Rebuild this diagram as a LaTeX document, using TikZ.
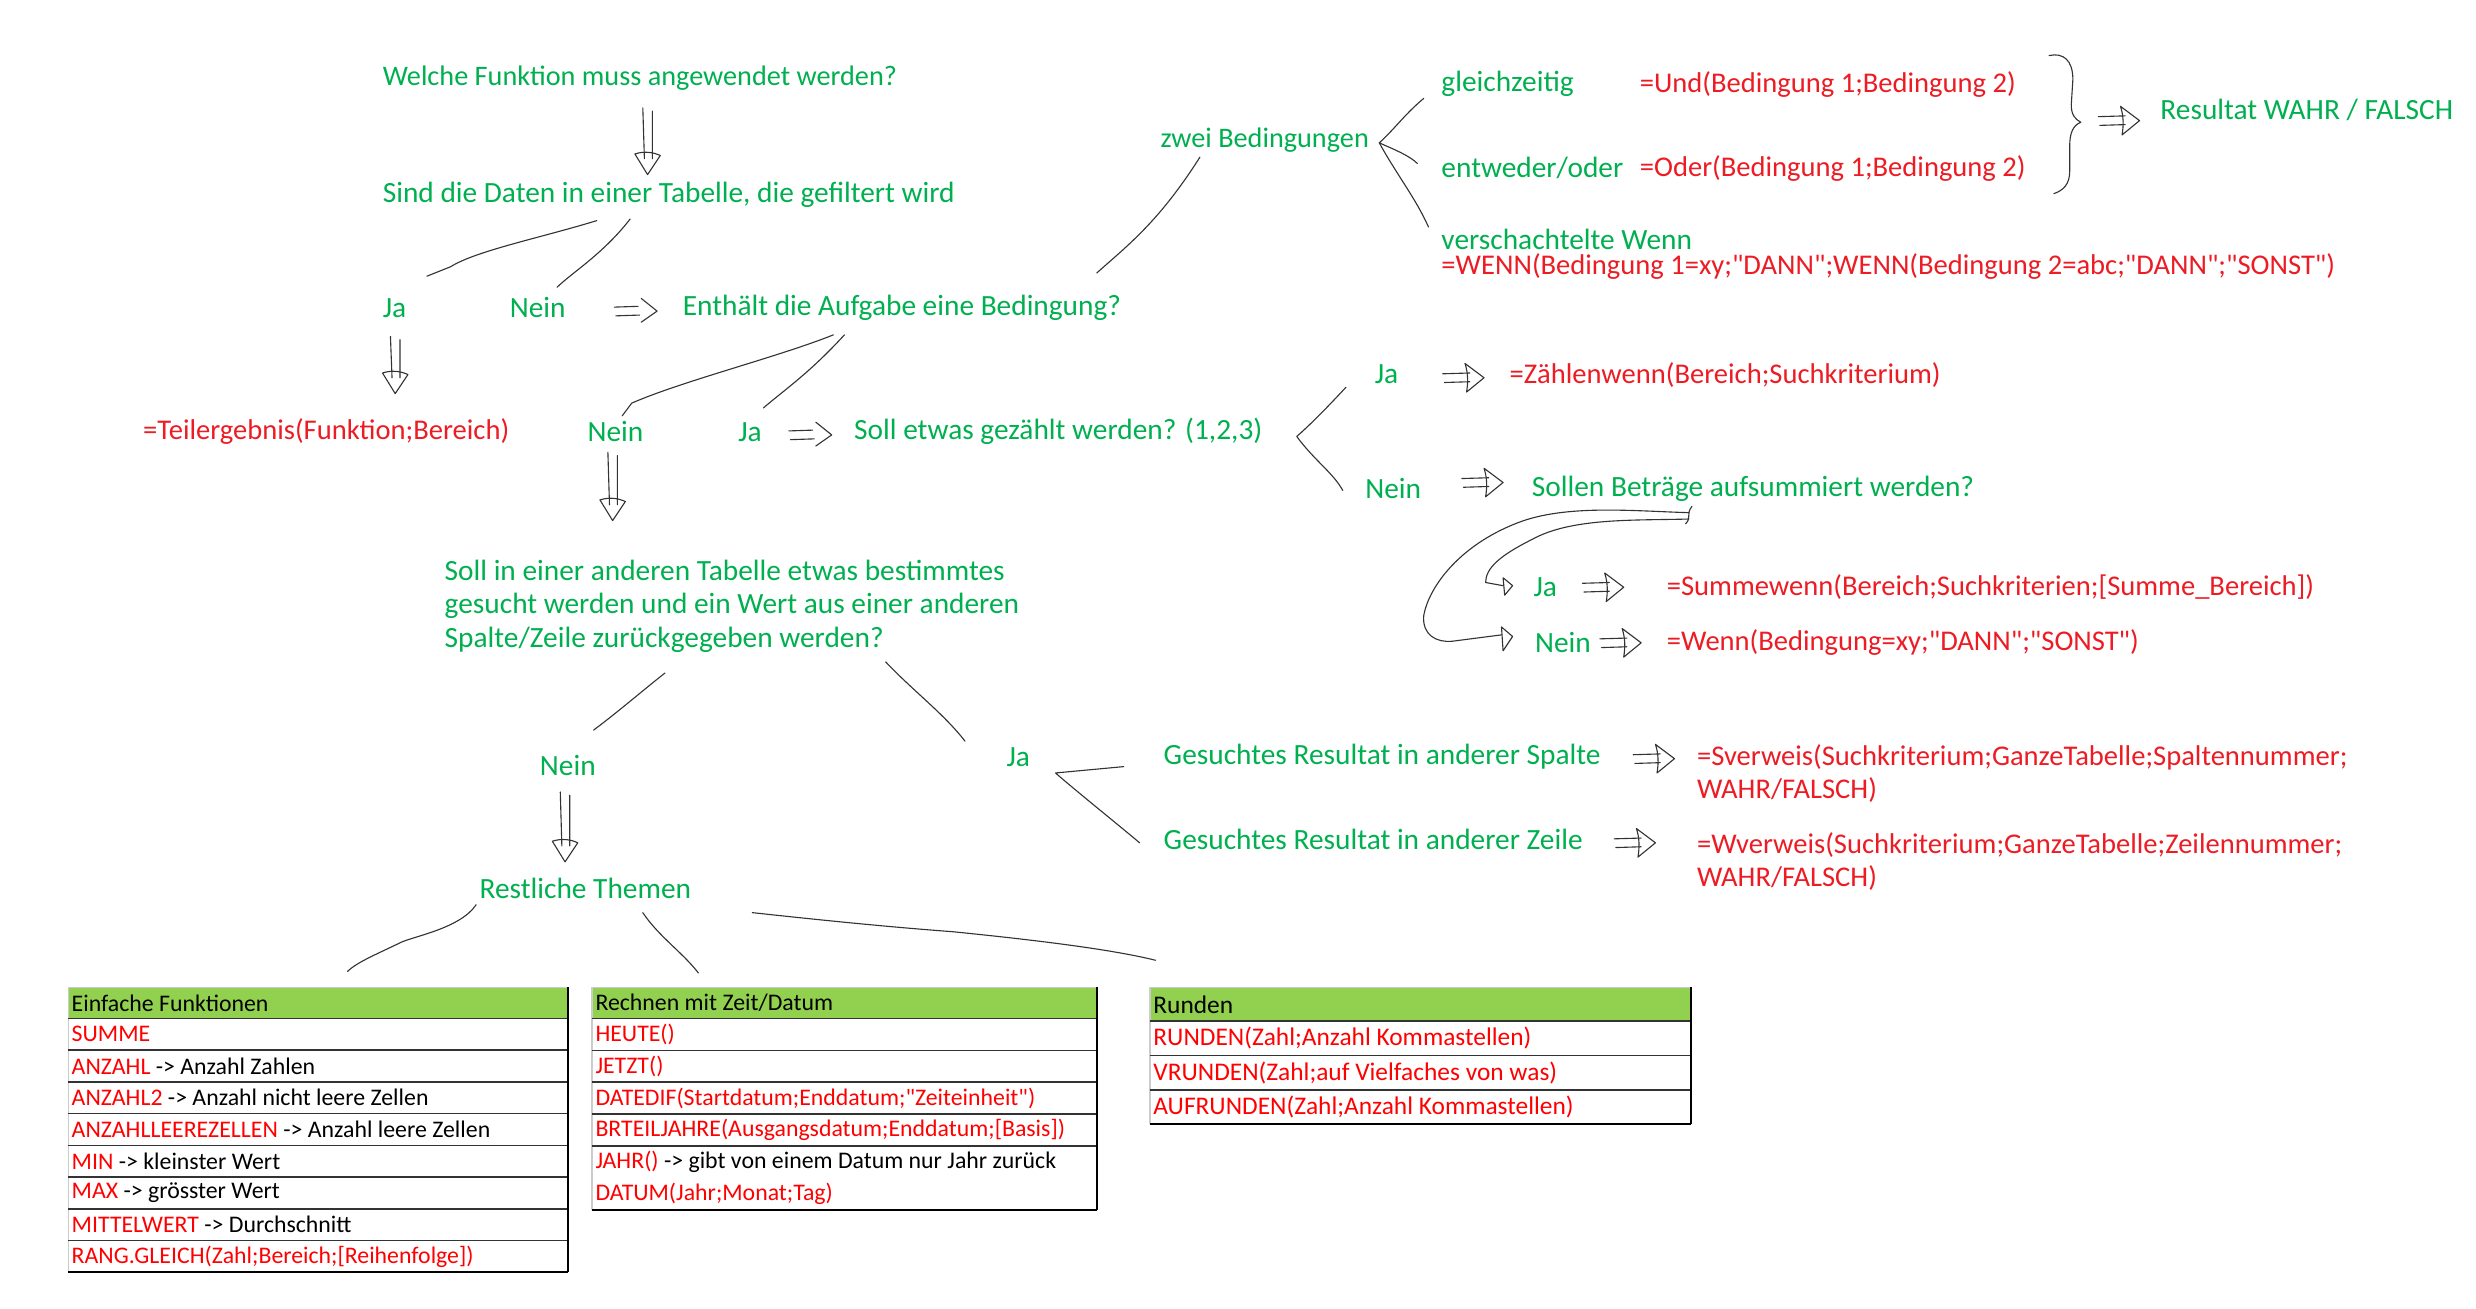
\documentclass[tikz,border=0pt]{standalone}
\usepackage{fontspec}
\setmainfont{Carlito}[Ligatures=TeXOff]
\definecolor{hgreen}{HTML}{00B050}
\definecolor{hred}{HTML}{ED1C24}
\definecolor{xred}{HTML}{FF0000}
\definecolor{xgreen}{HTML}{92D050}
\newcommand\hwfont{\fontsize{18.5}{21}\selectfont}
\newcommand\hwredfont{\fontsize{18}{21}\selectfont}
\newcommand\hwsmall{\fontsize{17.8}{21}\selectfont}
\newcommand\tbfont{\fontsize{15}{18}\selectfont}
\newcommand\rtbfont{\fontsize{16}{19}\selectfont}
% double down arrow with hollow head: x, ytop, ybottom
\newcommand\DnArrow[3]{%
  \draw[sk] (#1-3,#2) -- (#1-2,#3-10) (#1+3,#2+2) -- (#1+3,#3-10);
  \draw[sk] (#1-8,#3-13) .. controls (#1-2,#3-15) and (#1+4,#3-14) .. (#1+8,#3-12) -- (#1,#3) -- cycle;}
% "=>" with open chevron: xleft, ycenter
\newcommand\RtArrow[2]{%
  \draw[sk] (#1,#2-2.5) -- (#1+15,#2-3) (#1+1,#2+3) -- (#1+16,#2+2.5);
  \draw[sk] (#1+17,#2-8) -- (#1+27,#2) -- (#1+17,#2+7);}
% "=>" with hollow triangle: xleft, ycenter
\newcommand\RtArrowT[2]{%
  \draw[sk] (#1,#2-2.5) -- (#1+17,#2-3) (#1+1,#2+3) -- (#1+17,#2+2.5);
  \draw[sk] (#1+14,#2-9) -- (#1+26,#2) -- (#1+15,#2+9) .. controls (#1+16,#2+3) and (#1+16,#2-3) .. cycle;}
\begin{document}
\begin{tikzpicture}[x=1pt,y=-1pt,
  g/.style={anchor=west,inner sep=0pt,text=hgreen,font=\hwfont},
  r/.style={g,text=hred,font=\hwredfont},
  tb/.style={anchor=west,inner sep=0pt,text=black,font=\tbfont},
  sk/.style={draw=black!80,line width=0.7pt,line join=round,line cap=round},
  rowline/.style={draw=black!80,line width=0.9pt},
  thick border/.style={draw=black,line width=1.4pt},
  light border/.style={draw=black!20,line width=0.8pt}]
\useasboundingbox[fill=white] (0,0) rectangle (1560,824.7);

% ---------------- main questions ----------------
\node[g,font=\hwsmall] (q1) at (241,49) {Welche Funktion muss angewendet werden?};
\node[g] (q2) at (241,123) {Sind die Daten in einer Tabelle, die gefiltert wird};
\node[g] (ja1) at (241,194) {Ja};
\node[g] (nein1) at (321,194) {Nein};
\node[g] (q3) at (430,194) {Enthält die Aufgabe eine Bedingung?};
\node[r] (teil) at (90,272) {=Teilergebnis(Funktion;Bereich)};
\node[g] (nein2) at (370,272) {Nein};
\node[g] (ja2) at (465,272) {Ja};
\node[g] (q4) at (538,272) {Soll etwas gezählt werden? (1,2,3)};
\node[g,align=left] (q5) at (280,382) {Soll in einer anderen Tabelle etwas bestimmtes\\gesucht werden und ein Wert aus einer anderen\\Spalte/Zeile zurückgegeben werden?};
\node[g] (nein3) at (340,482) {Nein};
\node[g] (ja3) at (634,477) {Ja};
\node[g] (rest) at (302,560) {Restliche Themen};
\node[g] (spalte) at (733,477) {Gesuchtes Resultat in anderer Spalte};
\node[r,align=left] (sverw) at (1069,487.5) {=Sverweis(Suchkriterium;GanzeTabelle;Spaltennummer;\\WAHR/FALSCH)};
\node[g] (zeile) at (733,529) {Gesuchtes Resultat in anderer Zeile};
\node[r,align=left] (wverw) at (1069,543) {=Wverweis(Suchkriterium;GanzeTabelle;Zeilennummer;\\WAHR/FALSCH)};

% ---------------- conditions ----------------
\node[g,font=\hwsmall] (zwei) at (731,88) {zwei Bedingungen};
\node[g] (gleich) at (908,53) {gleichzeitig};
\node[r] (und) at (1033,53) {=Und(Bedingung 1;Bedingung 2)};
\node[g] (entw) at (908,106) {entweder/oder};
\node[r] (oder) at (1033,106) {=Oder(Bedingung 1;Bedingung 2)};
\node[g] (versch) at (908,151) {verschachtelte Wenn};
\node[r] (wenn) at (908,168) {=WENN(Bedingung 1=xy;"DANN";WENN(Bedingung 2=abc;"DANN";"SONST")};
\node[g] (resultat) at (1361,69) {Resultat WAHR / FALSCH};
\node[g] (ja4) at (866,236) {Ja};
\node[r] (zaehl) at (951,236) {=Zählenwenn(Bereich;Suchkriterium)};
\node[g] (nein4) at (860,308) {Nein};
\node[g] (q6) at (965,308) {Sollen Beträge aufsummiert werden?};
\node[g] (ja5) at (966,370) {Ja};
\node[r] (summe) at (1050,370) {=Summewenn(Bereich;Suchkriterien;[Summe\_Bereich])};
\node[g] (nein5) at (967,405) {Nein};
\node[r] (wenn2) at (1050,405) {=Wenn(Bedingung=xy;"DANN";"SONST")};

% ---------------- sketch connectors ----------------
\DnArrow{408}{68}{110}
\draw[sk] (376,139) .. controls (340,150) and (300,158) .. (284,168) -- (269,174);
\draw[sk] (397,138) .. controls (380,160) and (360,172) .. (351,181);
\RtArrow{387}{196}
\draw[sk] (756,99) .. controls (730,140) and (710,155) .. (691,172);
\DnArrow{249}{212}{248}
\draw[sk] (525,211) .. controls (490,225) and (430,240) .. (398,254) -- (392,262);
\draw[sk] (532,211) .. controls (510,235) and (495,245) .. (481,257);
\RtArrow{497}{274}
\DnArrow{386}{285}{328}
% zwei Bedingungen branches
\draw[sk] (897,62) .. controls (885,72) and (878,82) .. (869,90) .. controls (878,94) and (888,98) .. (893,103);
\draw[sk] (869,90) .. controls (880,110) and (892,125) .. (900,143);
% brace
\draw[sk] (1291,35) .. controls (1300,33) and (1306,38) .. (1306,50) -- (1305,66) .. controls (1305,72) and (1307,75) .. (1311,77) .. controls (1306,79) and (1304,84) .. (1304,92) -- (1304,108) .. controls (1304,116) and (1300,120) .. (1294,122);
\RtArrowT{1322}{76}
% Soll etwas gezählt branches
\draw[sk] (848,244) .. controls (835,258) and (825,268) .. (817,275) .. controls (828,290) and (840,298) .. (846,309);
\RtArrowT{909}{238}
\RtArrowT{921}{304}
% curved arrows from Sollen Beträge
\draw[sk] (1066,319) .. controls (1062,324) and (1066,326) .. (1062,330);
\draw[sk] (1064,323) .. controls (1030,322) and (990,318) .. (960,328) .. controls (920,342) and (900,370) .. (897,388) .. controls (896,400) and (905,405) .. (915,404) -- (946,400);
\draw[sk] (946,395) -- (953,401) -- (947,410) -- cycle;
\draw[sk] (1064,327) .. controls (1030,328) and (990,326) .. (965,340) .. controls (945,350) and (936,358) .. (936,367) -- (947,369);
\draw[sk] (947,364) -- (953,369) -- (948,375) -- cycle;
\RtArrowT{997}{370}
\RtArrowT{1008}{405}
% second question branches
\draw[sk] (419,424) .. controls (405,435) and (390,448) .. (374,460);
\draw[sk] (558,417) .. controls (575,435) and (595,450) .. (608,467);
\draw[sk] (708,483) -- (665,487) .. controls (680,500) and (705,520) .. (718,531);
\RtArrowT{1029}{478}
\RtArrowT{1017}{531}
\DnArrow{356}{499}{543}
% Restliche Themen branches
\draw[sk] (300,570) .. controls (290,585) and (260,590) .. (252,594) .. controls (240,600) and (225,606) .. (219,612);
\draw[sk] (405,575) .. controls (415,590) and (430,600) .. (440,613);
\draw[sk] (474,575) .. controls (520,580) and (560,584) .. (600,587) .. controls (650,592) and (700,598) .. (728,605);

% ---------------- table 1 ----------------
\fill[xgreen] (43,622) rectangle (358,641.6);
\draw[light border] (43,622) -- (358,622) (43,622) -- (43,801.6);
\foreach \y in {641.6,661.6,...,781.6} \draw[rowline] (43,\y) -- (358,\y);
\draw[thick border] (43,801.6) -- (358,801.6) (358,622) -- (358,801.6);
\node[tb] (t1h) at (45,632) {Einfache Funktionen};
\node[tb,text=xred] (t1a) at (45,651.6) {SUMME};
\node[tb] (t1b) at (45,671.6) {{\color{xred}ANZAHL} -> Anzahl Zahlen};
\node[tb] (t1c) at (45,691.6) {{\color{xred}ANZAHL2} -> Anzahl nicht leere Zellen};
\node[tb] (t1d) at (45,711.6) {{\color{xred}ANZAHLLEEREZELLEN} -> Anzahl leere Zellen};
\node[tb] (t1e) at (45,731.6) {{\color{xred}MIN} -> kleinster Wert};
\node[tb] (t1f) at (45,751.6) {{\color{xred}MAX} -> grösster Wert};
\node[tb] (t1g) at (45,771.6) {{\color{xred}MITTELWERT} -> Durchschnitt};
\node[tb,text=xred] (t1i) at (45,791.6) {RANG.GLEICH(Zahl;Bereich;[Reihenfolge])};

% ---------------- table 2 ----------------
\fill[xgreen] (373,622) rectangle (691,641.6);
\draw[light border] (373,622) -- (691,622) (373,622) -- (373,762.4);
\foreach \y in {641.6,661.7,681.8,701.9,722.0} \draw[rowline] (373,\y) -- (691,\y);
\draw[thick border] (373,762.4) -- (691,762.4) (691,622) -- (691,762.4);
\node[tb] (t2h) at (375,632) {Rechnen mit Zeit/Datum};
\node[tb,text=xred] (t2a) at (375,651.7) {HEUTE()};
\node[tb,text=xred] (t2b) at (375,671.8) {JETZT()};
\node[tb,text=xred] (t2c) at (375,691.9) {DATEDIF(Startdatum;Enddatum;"Zeiteinheit")};
\node[tb,text=xred] (t2d) at (375,712.0) {BRTEILJAHRE(Ausgangsdatum;Enddatum;[Basis])};
\node[tb] (t2e) at (375,732.1) {{\color{xred}JAHR()} -> gibt von einem Datum nur Jahr zurück};
\node[tb,text=xred] (t2f) at (375,752.2) {DATUM(Jahr;Monat;Tag)};

% ---------------- table 3 ----------------
\fill[xgreen] (724.5,622) rectangle (1065.6,643.4);
\draw[light border] (724.5,622) -- (1065.6,622) (724.5,622) -- (724.5,708.3);
\foreach \y in {643.4,665.0,686.7} \draw[rowline] (724.5,\y) -- (1065.6,\y);
\draw[thick border] (724.5,708.3) -- (1065.6,708.3) (1065.6,622) -- (1065.6,708.3);
\node[tb,font=\rtbfont] (t3h) at (726.5,633) {Runden};
\node[tb,font=\rtbfont,text=xred] (t3a) at (726.5,654.2) {RUNDEN(Zahl;Anzahl Kommastellen)};
\node[tb,font=\rtbfont,text=xred] (t3b) at (726.5,675.8) {VRUNDEN(Zahl;auf Vielfaches von was)};
\node[tb,font=\rtbfont,text=xred] (t3c) at (726.5,697.5) {AUFRUNDEN(Zahl;Anzahl Kommastellen)};
\end{tikzpicture}
\end{document}
